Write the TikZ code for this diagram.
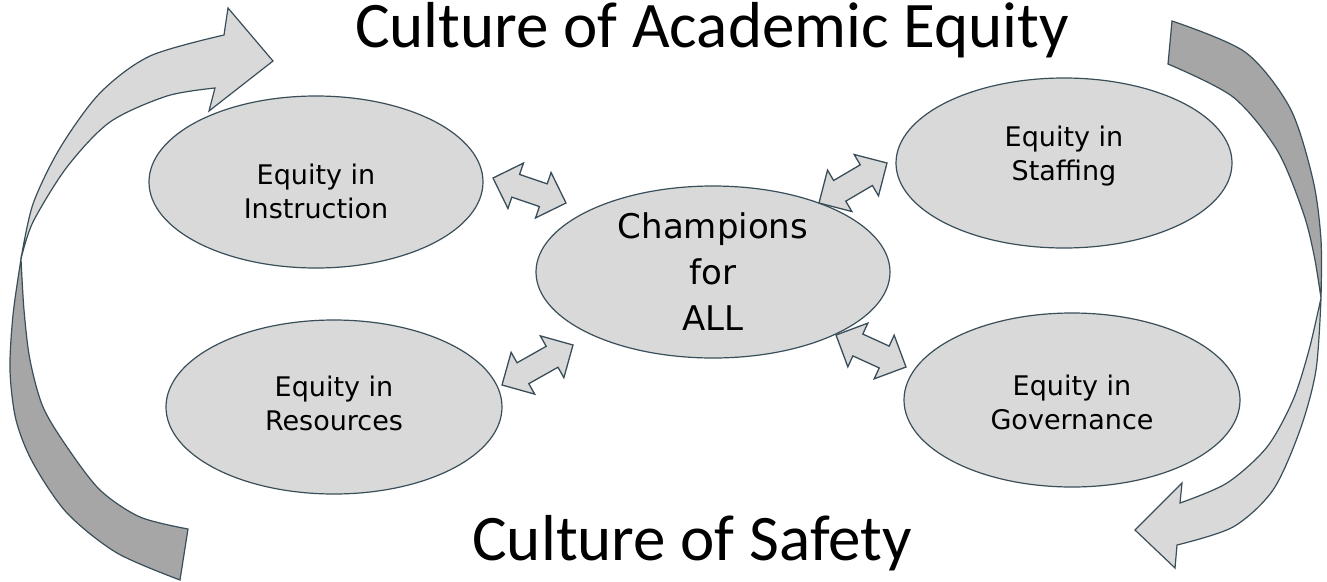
\documentclass[tikz,border=0pt]{standalone}
\usepackage{fontspec}
\usetikzlibrary{shapes.geometric,calc}
\newfontfamily\titlefont{Carlito}
\newfontfamily\bubblefont{DejaVu Sans}
\definecolor{edgeline}{RGB}{58,78,90}
\definecolor{palefill}{RGB}{217,217,217}
\definecolor{deepfill}{RGB}{166,166,166}

% two-headed block arrow between two named points
\newcommand{\twowayarrow}[2]{%
  \draw[twoway] (#1)
    -- ($(#1)!24pt!(#2)!24pt!90:(#2)$)
    -- ($(#1)!24pt!(#2)!12pt!90:(#2)$)
    -- ($(#2)!24pt!(#1)!12pt!-90:(#1)$)
    -- ($(#2)!24pt!(#1)!24pt!-90:(#1)$)
    -- (#2)
    -- ($(#2)!24pt!(#1)!24pt!90:(#1)$)
    -- ($(#2)!24pt!(#1)!12pt!90:(#1)$)
    -- ($(#1)!24pt!(#2)!12pt!-90:(#2)$)
    -- ($(#1)!24pt!(#2)!24pt!-90:(#2)$)
    -- cycle;}

\begin{document}
\begin{tikzpicture}[x=1pt,y=-1pt,
  bubble/.style={ellipse, draw=edgeline, fill=palefill, line width=1.2pt, inner sep=0pt},
  caption/.style={align=center, inner sep=0pt, font=\bubblefont\fontsize{27}{34}\selectfont},
  hubcaption/.style={caption, font=\bubblefont\fontsize{34}{46}\selectfont},
  twoway/.style={draw=edgeline, fill=palefill, line width=1.3pt, line join=miter},
  lightband/.style={draw=edgeline, fill=palefill, line width=1.2pt, line join=miter},
  darkband/.style={draw=edgeline, fill=deepfill, line width=1.2pt, line join=miter},
  heading/.style={font=\titlefont\fontsize{65}{70}\selectfont, inner sep=0pt, anchor=base}]
\useasboundingbox (0,0) rectangle (1327,581);
\fill[white] (0,0) rectangle (1327,581);

% curved arrow on the left, rising to the top
\draw[darkband] plot[smooth, tension=0.5] coordinates {(21,259) (13,315) (10,370) (16,420) (33,463) (67,513) (117,553) (180,580)}
  -- (188,529)
  -- plot[smooth, tension=0.5] coordinates {(188,529) (140,517) (100,490) (67,447) (43,407) (30,360) (24,310) (21,259)} -- cycle;
\draw[lightband] plot[smooth, tension=0.5] coordinates {(21,259) (33,204) (60,148) (100,93) (150,56) (224,35)}
  -- (228,8) -- (273,61) -- (209,111) -- (215,88)
  -- plot[smooth, tension=0.5] coordinates {(215,88) (167,96) (110,122) (67,167) (33,222) (21,259)} -- cycle;

% curved arrow on the right, falling to the bottom
\draw[darkband] plot[smooth, tension=0.5] coordinates {(1172,21) (1245,52) (1290,108) (1313,180) (1321,240) (1321,298)}
  -- plot[smooth, tension=0.5] coordinates {(1321,298) (1314,255) (1303,212) (1277,150) (1233,97) (1168,64)} -- cycle;
\draw[lightband] plot[smooth, tension=0.5] coordinates {(1321,298) (1316,370) (1300,430) (1273,490) (1233,527) (1177,545)}
  -- (1175,568) -- (1135,530) -- (1182,483) -- (1180,503)
  -- plot[smooth, tension=0.5] coordinates {(1180,503) (1227,483) (1267,447) (1293,400) (1309,350) (1321,298)} -- cycle;

% headings
\node[heading] (top) at (712,47) {Culture of Academic Equity};
\node[heading] (bottom) at (692,560) {Culture of Safety};

% the five ellipses
\node[bubble, minimum width=334pt, minimum height=172pt] (ins) at (316,182) {};
\node[bubble, minimum width=336pt, minimum height=170pt] (sta) at (1064,163) {};
\node[bubble, minimum width=336pt, minimum height=174pt] (res) at (334,407) {};
\node[bubble, minimum width=336pt, minimum height=174pt] (gov) at (1072,400) {};
\node[bubble, minimum width=354pt, minimum height=172pt] (champ) at (713,272) {};

% their captions
\node[caption] (ins-t) at ([yshift=-9pt]ins.center) {Equity in\\Instruction};
\node[caption] (sta-t) at ([yshift=7pt]sta.center) {Equity in\\Staffing};
\node[caption] (res-t) at ([yshift=4pt]res.center) {Equity in\\Resources};
\node[caption] (gov-t) at ([yshift=-2pt]gov.center) {Equity in\\Governance};
\node[hubcaption] (champ-t) at (champ.center) {Champions\\for\\ALL};

% ends of the two-headed arrows
\coordinate (a1) at (493,178); \coordinate (b1) at (566,203);
\coordinate (a2) at (502,385); \coordinate (b2) at (573,345);
\coordinate (a3) at (819,203); \coordinate (b3) at (887,163);
\coordinate (a4) at (836,335); \coordinate (b4) at (906,367);
\twowayarrow{a1}{b1}
\twowayarrow{a2}{b2}
\twowayarrow{a3}{b3}
\twowayarrow{a4}{b4}
\end{tikzpicture}
\end{document}
